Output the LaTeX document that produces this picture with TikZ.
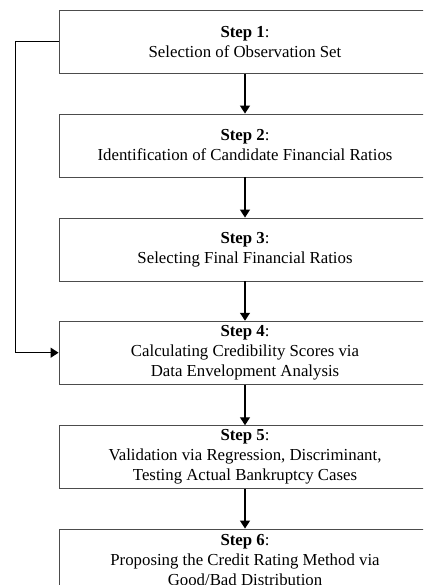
\documentclass[tikz,border=0pt]{standalone}
\usepackage{fontspec}
\setmainfont{Liberation Serif}
\usetikzlibrary{arrows.meta}
\begin{document}
\begin{tikzpicture}[x=1pt,y=1pt,
  stepbox/.style={draw=black!70, line width=0.9pt, rectangle, minimum width=372pt, minimum height=63pt, inner sep=0pt, align=center, font=\fontsize{16.8}{20}\selectfont},
  conn/.style={draw=black, line width=1.3pt, -{Triangle[length=8pt,width=10pt]}}]
\useasboundingbox (0,0) rectangle (423,-585);
\clip (0,0) rectangle (423,-585);
\node[stepbox] (s1) at (245,-41.7) {\textbf{Step 1}:\\Selection of Observation Set};
\node[stepbox] (s2) at (245,-145.5) {\textbf{Step 2}:\\Identification of Candidate Financial Ratios};
\node[stepbox] (s3) at (245,-249.5) {\textbf{Step 3}:\\Selecting Final Financial Ratios};
\node[stepbox] (s4) at (245,-352.7) {\textbf{Step 4}:\\Calculating Credibility Scores via\\Data Envelopment Analysis};
\node[stepbox] (s5) at (245,-457.2) {\textbf{Step 5}:\\Validation via Regression, Discriminant,\\Testing Actual Bankruptcy Cases};
\node[stepbox] (s6) at (245,-560.5) {\textbf{Step 6}:\\Proposing the Credit Rating Method via\\Good/Bad Distribution};
\draw[conn] (s1) -- (s2);
\draw[conn] (s2) -- (s3);
\draw[conn] (s3) -- (s4);
\draw[conn] (s4) -- (s5);
\draw[conn] (s5) -- (s6);
\coordinate (fb) at (15.3,-41.7);
\draw[conn] (s1.west) -- (fb) |- (s4.west);
\end{tikzpicture}
\end{document}
